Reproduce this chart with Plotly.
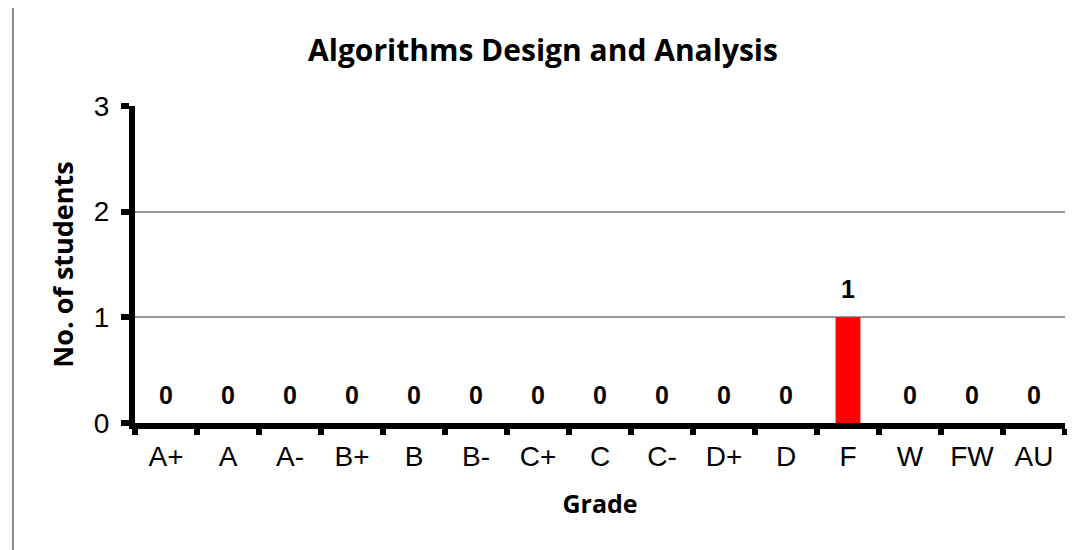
import plotly.graph_objects as go

grades = ["A+", "A", "A-", "B+", "B", "B-", "C+", "C", "C-", "D+", "D", "F", "W", "FW", "AU"]
students = [0, 0, 0, 0, 0, 0, 0, 0, 0, 0, 0, 1, 0, 0, 0]
title_text = "Algorithms Design and Analysis"
x_title = "Grade"
y_title = "No. of students"

# the page body has an 8px default margin; size the figure to fill the window
OFF = 8
W, H = 1075 - OFF, 550 - OFF
L, T, R, B = 135 - OFF, 106 - OFF, 10, 550 - 423
PW, PH = W - L - R, H - T - B

fig = go.Figure(go.Bar(
    x=grades, y=students,
    marker=dict(color="#ff0000", line=dict(width=0)),
    cliponaxis=False,
))

annotations = [
    dict(x=g, y=v, xref="x", yref="y", text="<b>%d</b>" % v, showarrow=False,
         yanchor="bottom", yshift=12,
         font=dict(family="Liberation Sans, Arial", size=25, color="black"))
    for g, v in zip(grades, students)
]

fig.update_layout(
    width=W, height=H,
    margin=dict(l=L, r=R, t=T, b=B),
    paper_bgcolor="white", plot_bgcolor="white",
    bargap=0.6,
    showlegend=False,
    annotations=annotations,
    title=dict(text="<b>" + title_text + "</b>", x=(543 - OFF - L) / PW, xref="paper", xanchor="center",
               y=1 - (50 - OFF) / H, yanchor="middle",
               font=dict(family="Open Sans, Lato, sans-serif", size=30, color="black")),
    font=dict(family="Liberation Sans, Arial", color="black"),
    shapes=[dict(type="rect", xref="paper", yref="paper",
                 x0=(13 - 135) / PW, x1=1.2, y0=-0.6, y1=(423 - 6) / PH,
                 line=dict(color="#8c8c8c", width=2), layer="below")],
)

fig.update_xaxes(
    type="category", automargin=False,
    showline=True, linecolor="black", linewidth=6,
    ticks="outside", tickson="boundaries", ticklen=6, tickwidth=6, tickcolor="black",
    ticklabelstandoff=3,
    tickfont=dict(size=28, family="Liberation Sans, Arial"),
    showgrid=False,
    title=dict(text="<b>" + x_title + "</b>", standoff=27,
               font=dict(family="Open Sans, Lato, sans-serif", size=25)),
)
fig.update_yaxes(
    range=[0, 3], dtick=1, automargin=False,
    showline=True, linecolor="black", linewidth=6,
    ticks="outside", ticklen=8, tickwidth=6, tickcolor="black",
    ticklabelstandoff=6,
    tickfont=dict(size=28, family="Liberation Sans, Arial"),
    showgrid=True, gridcolor="#9a9a9a", gridwidth=1.5,
    zeroline=False,
    title=dict(text="<b>" + y_title + "</b>", standoff=14,
               font=dict(family="Open Sans, Lato, sans-serif", size=27)),
)

fig.write_html("out.html")
